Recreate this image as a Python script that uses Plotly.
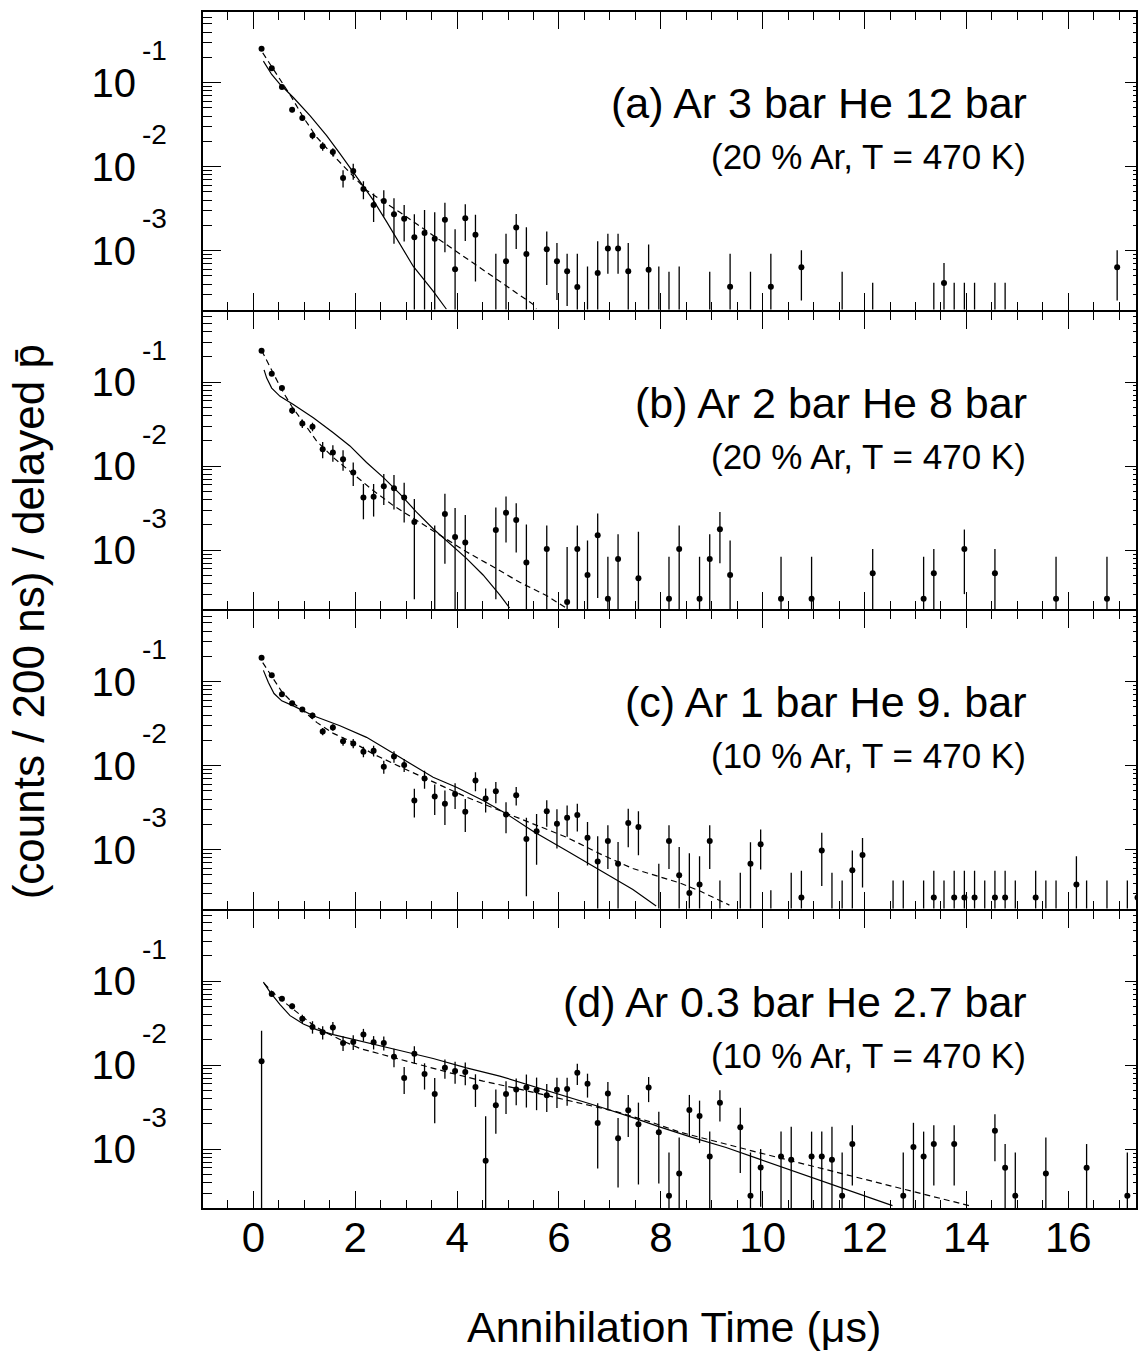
import math
import plotly.graph_objects as go

FONT = "Liberation Sans, Arial, Helvetica, sans-serif"

# ---------------- data ----------------
time_us = [0.16, 0.36, 0.56, 0.76, 0.96, 1.16, 1.36, 1.56, 1.76, 1.96,
           2.16, 2.36, 2.56, 2.76, 2.96, 3.16, 3.36, 3.56, 3.76, 3.96,
           4.16, 4.36, 4.56, 4.76, 4.96, 5.16, 5.36, 5.56, 5.76, 5.96,
           6.16, 6.36, 6.56, 6.76, 6.96, 7.16, 7.36, 7.56, 7.76, 7.96,
           8.16, 8.36, 8.56, 8.76, 8.96, 9.16, 9.36, 9.56, 9.76, 9.96,
           10.16, 10.36, 10.56, 10.76, 10.96, 11.16, 11.36, 11.56, 11.76, 11.96,
           12.16, 12.36, 12.56, 12.76, 12.96, 13.16, 13.36, 13.56, 13.76, 13.96,
           14.16, 14.36, 14.56, 14.76, 14.96, 15.16, 15.36, 15.56, 15.76, 15.96,
           16.16, 16.36, 16.56, 16.76, 16.96, 17.16, 17.36]

# (a) Ar 3 bar He 12 bar   (1e-4 = below the axis floor, only the error bar shows)
counts_a = [0.252, 0.148, 0.0889, 0.0475, 0.0379, 0.0234, 0.0175, 0.0149, 0.00734, 0.00889,
            0.0054, 0.00349, 0.0039, 0.00271, 0.00239, 0.00144, 0.00162, 0.00139, 0.00234, 0.000602,
            0.00243, 0.00155, None, 1e-4, 0.000748, 0.00189, 0.000914, None, 0.00104, 0.000748,
            0.00057, 0.000369, 1e-4, 0.000544, 0.00106, 0.00106, 0.00057, None, 0.000592, 1e-4,
            1e-4, 1e-4, None, None, 1e-4, None, 0.000372, None, 1e-4, None,
            0.000372, None, None, 0.000635, None, None, None, 1e-4, None, None,
            1e-4, None, None, None, None, None, 1e-4, 0.000411, 1e-4, 1e-4,
            1e-4, None, 1e-4, 1e-4, None, None, None, None, None, None,
            None, None, None, None, 0.000635, None, None]
errors_a = [0.008, 0.006, 0.004, 0.003, 0.003, 0.0022, 0.002, 0.0017, 0.0017, 0.0019,
            0.0013, 0.0013, 0.00135, 0.0015, 0.0011, 0.00127, 0.00143, 0.00148, 0.00138, 0.0012,
            0.00113, 0.00112, None, 0.00082, 0.00084, 0.00084, 0.00099, None, 0.00065, 0.00049,
            0.00035, 0.00055, 0.00055, 0.00075, 0.00053, 0.00053, 0.00066, None, 0.00059, 0.00055,
            0.00046, 0.00055, None, None, 0.00046, None, 0.00055, None, 0.00046, None,
            0.00055, None, None, 0.00038, None, None, None, 0.00046, None, None,
            0.000315, None, None, None, None, None, 0.000315, 0.0003, 0.000315, 0.000315,
            0.000315, None, 0.000315, 0.000315, None, None, None, None, None, None,
            None, None, None, None, 0.00038, None, None]

# (b) Ar 2 bar He 8 bar
counts_b = [0.2366, 0.1253, 0.0849, 0.0458, 0.0322, 0.0294, 0.0159, 0.0145, 0.0121, 0.00842,
            0.00423, 0.00431, 0.00575, 0.00545, 0.00423, 0.00216, None, 1e-4, 0.00269, 0.00143,
            0.00123, None, None, 0.00174, 0.00279, 0.00228, 0.000714, None, 0.00103, None,
            0.000241, 0.00103, 0.000507, 0.0015, 0.000264, 0.000783, None, 0.000462, None, None,
            0.000264, 0.00103, None, 0.000264, 0.000783, 0.00177, 0.000507, None, None, None,
            None, 0.000264, None, None, 0.000264, None, None, None, None, None,
            0.00053, None, None, None, None, 0.000264, 0.00053, None, None, 0.00103,
            None, None, 0.00053, None, None, None, None, None, 0.000264, None,
            None, None, None, 0.000264, None, None, None]
errors_b = [0.008, 0.006, 0.005, 0.004, 0.0037, 0.0034, 0.0035, 0.0032, 0.0033, 0.0026,
            0.0019, 0.0018, 0.0023, 0.0024, 0.0021, 0.0019, None, 0.00187, 0.002, 0.00174,
            0.0014, None, None, 0.00148, 0.00156, 0.00134, 0.0013, None, 0.00094, None,
            0.00085, 0.00094, 0.0008, 0.00123, 0.00057, 0.00076, None, 0.0012, None, None,
            0.00057, 0.00094, None, 0.00057, 0.00076, 0.00107, 0.0008, None, None, None,
            None, 0.00057, None, None, 0.00057, None, None, None, None, None,
            0.0005, None, None, None, None, 0.00057, 0.0005, None, None, 0.00073,
            None, None, 0.0005, None, None, None, None, None, 0.00057, None,
            None, None, None, 0.00057, None, None, None]

# (c) Ar 1 bar He 9. bar
counts_c = [0.1927, 0.1189, 0.0708, 0.0553, 0.0466, 0.0395, 0.0255, 0.0285, 0.01945, 0.0184,
            0.01466, 0.01507, 0.00973, 0.0128, 0.0102, 0.00385, 0.00701, 0.00428, 0.00351, 0.00461,
            0.00282, 0.00664, 0.00406, 0.00497, 0.00262, 0.00445, 0.00134, 0.00166, 0.00287, 0.00203,
            0.00239, 0.00258, 0.00139, 0.000721, 0.00127, 0.000682, 0.00207, 0.00186, None, 1e-4,
            0.00127, 0.000497, 0.000306, 0.000385, 0.00127, 1e-4, None, 1e-4, 0.000682, 0.00116,
            1e-4, None, 1e-4, 0.00027, None, 0.00098, 1e-4, 1e-4, 0.00057, 0.000865,
            None, None, 1e-4, 1e-4, None, 1e-4, 0.00027, 1e-4, 0.00027, 0.00027,
            0.00027, 1e-4, 0.00027, 0.00027, 1e-4, None, 0.00027, 1e-4, 1e-4, None,
            0.000385, 1e-4, None, 1e-4, None, 1e-4, 0.00027]
errors_c = [0.006, 0.005, 0.004, 0.003, 0.003, 0.003, 0.0025, 0.0025, 0.0022, 0.0023,
            0.0021, 0.0022, 0.0017, 0.002, 0.0018, 0.00144, 0.0017, 0.0017, 0.00155, 0.00157,
            0.0012, 0.0017, 0.0013, 0.0014, 0.00105, 0.0011, 0.00106, 0.001, 0.001, 0.001,
            0.00097, 0.00093, 0.00074, 0.00072, 0.00068, 0.00055, 0.001, 0.001, None, 0.00058,
            0.00068, 0.00058, 0.0006, 0.00045, 0.00068, 0.00033, None, 0.00043, 0.00054, 0.00058,
            0.00023, None, 0.00043, 0.00029, None, 0.00061, 0.00043, 0.00033, 0.00041, 0.00051,
            None, None, 0.00033, 0.00033, None, 0.00033, 0.00029, 0.00033, 0.00029, 0.00029,
            0.00029, 0.00033, 0.00029, 0.00029, 0.00033, None, 0.00029, 0.00033, 0.00033, None,
            0.00045, 0.00033, None, 0.00033, None, 0.00033, 0.00029]

# (d) Ar 0.3 bar He 2.7 bar
counts_d = [0.01114, 0.0701, 0.0618, 0.0501, 0.0357, 0.0285, 0.0246, 0.028, 0.0184, 0.0189,
            0.0231, 0.01875, 0.0184, 0.01256, 0.00702, 0.01362, 0.00782, 0.00453, 0.00929, 0.00849,
            0.00826, 0.00548, 0.000728, 0.00333, 0.00453, 0.00514, 0.00543, 0.00501, 0.00437, 0.0051,
            0.00519, 0.00811, 0.00601, 0.00205, 0.00461, 0.00135, 0.0029, 0.00198, 0.00543, 0.00159,
            0.00028, 0.000514, 0.00292, 0.00248, 0.000818, 0.00357, None, 0.00182, 0.00028, 0.000607,
            None, 0.000818, 0.000748, None, 0.000818, 0.000818, 0.000748, 0.00028, 0.00115, None,
            None, None, None, 0.00028, 0.00106, 0.000818, 0.00115, None, 0.00115, None,
            None, None, 0.00166, 0.000601, 0.00028, None, None, 0.000514, None, None,
            None, 0.000601, None, None, None, 0.00028, None]
errors_d = [0.0146, 0.004, 0.004, 0.004, 0.004, 0.0048, 0.0044, 0.0047, 0.0037, 0.0038,
            0.0039, 0.0034, 0.0035, 0.0031, 0.0025, 0.0032, 0.0027, 0.0025, 0.0024, 0.0025,
            0.0025, 0.0023, 0.00173, 0.0018, 0.0019, 0.0018, 0.0023, 0.0021, 0.0016, 0.002,
            0.0019, 0.0023, 0.0019, 0.00146, 0.0017, 0.001, 0.0015, 0.0016, 0.0018, 0.0012,
            0.00063, 0.00086, 0.0015, 0.0013, 0.0008, 0.00144, None, 0.0013, 0.00063, 0.0004,
            None, 0.0008, 0.0011, None, 0.0008, 0.0008, 0.0011, 0.00063, 0.00078, None,
            None, None, None, 0.00063, 0.001, 0.0008, 0.00078, None, 0.00078, None,
            None, None, 0.00094, 0.00055, 0.00063, None, None, 0.00086, None, None,
            None, 0.00055, None, None, None, 0.00063, None]

# fitted curves (solid and dashed)
solid_a_t = [0.196, 0.359, 0.523, 0.784, 1.111, 1.438, 1.699, 1.961, 2.157, 2.353, 2.614, 2.876, 3.137, 3.529, 3.79]
solid_a = [0.180, 0.125, 0.0955, 0.0665, 0.0404, 0.0234, 0.01425, 0.00865, 0.00575, 0.0040, 0.00222, 0.00118, 0.000653, 0.000331, 0.000201]
dashed_a_t = [0.183, 0.359, 0.523, 0.752, 0.980, 1.242, 1.569, 1.961, 2.222, 2.549, 2.876, 3.529, 4.183, 4.837, 5.49, 5.556]
dashed_a = [0.226, 0.1545, 0.1094, 0.0665, 0.0386, 0.0224, 0.0136, 0.00755, 0.00525, 0.00383, 0.00286, 0.00152, 0.000805, 0.000435, 0.00023, 0.000201]

solid_b_t = [0.209, 0.261, 0.359, 0.523, 0.784, 1.176, 1.569, 1.895, 2.222, 2.549, 2.876, 3.203, 3.529, 3.856, 4.183, 4.51, 4.837, 5.03]
solid_b = [0.140, 0.1115, 0.0849, 0.0677, 0.054, 0.0376, 0.025, 0.0174, 0.01104, 0.00734, 0.00467, 0.00284, 0.0018, 0.0012, 0.000798, 0.000507, 0.000294, 0.000205]
dashed_b_t = [0.163, 0.261, 0.392, 0.556, 0.752, 0.980, 1.242, 1.569, 1.961, 2.353, 2.745, 3.137, 3.66, 4.183, 4.706, 5.229, 5.752, 6.144]
dashed_b = [0.2366, 0.180, 0.1277, 0.0811, 0.0516, 0.0328, 0.0199, 0.01265, 0.00805, 0.00512, 0.0034, 0.00241, 0.0015, 0.000955, 0.000635, 0.000415, 0.000289, 0.000205]

solid_c_t = [0.196, 0.294, 0.405, 0.556, 0.784, 1.176, 1.699, 2.222, 2.876, 3.529, 3.987, 4.51, 4.967, 5.49, 6.144, 6.797, 7.451, 7.908]
solid_c = [0.136, 0.0973, 0.0721, 0.059, 0.0514, 0.0392, 0.0298, 0.0217, 0.01256, 0.00728, 0.00553, 0.00385, 0.00267, 0.00166, 0.00098, 0.00057, 0.000336, 0.000213]
dashed_c_t = [0.183, 0.359, 0.556, 0.752, 0.98, 1.242, 1.569, 1.961, 2.353, 2.876, 3.529, 4.183, 4.837, 5.49, 6.144, 6.797, 7.451, 8.366, 8.758, 9.346]
dashed_c = [0.168, 0.1167, 0.076, 0.0574, 0.0449, 0.0327, 0.0242, 0.0189, 0.01375, 0.00973, 0.00634, 0.00422, 0.00292, 0.00203, 0.00141, 0.000897, 0.000596, 0.000403, 0.000324, 0.000219]

solid_d_t = [0.196, 0.327, 0.523, 0.719, 0.980, 1.242, 1.569, 2.222, 2.876, 3.529, 4.183, 4.837, 5.49, 6.144, 6.797, 7.451, 7.974, 8.627, 9.281, 9.935, 10.588, 11.242, 11.895, 12.549]
solid_d = [0.0973, 0.0741, 0.0524, 0.0388, 0.0309, 0.0265, 0.0231, 0.0184, 0.01493, 0.012, 0.00929, 0.00741, 0.00564, 0.00428, 0.0032, 0.00237, 0.00184, 0.001374, 0.001047, 0.00076, 0.000553, 0.000403, 0.000292, 0.000213]
dashed_d_t = [0.209, 0.359, 0.588, 0.915, 1.176, 1.438, 1.765, 2.092, 2.549, 3.203, 3.856, 4.51, 5.163, 5.817, 6.471, 7.124, 7.778, 8.366, 9.935, 11.242, 12.549, 14.05]
dashed_d = [0.0938, 0.0753, 0.0574, 0.0399, 0.0298, 0.0242, 0.0193, 0.01578, 0.01337, 0.01038, 0.00811, 0.00646, 0.00528, 0.00428, 0.00348, 0.0028, 0.00213, 0.0016, 0.000906, 0.000574, 0.000361, 0.000213]

panel_titles = ["(a) Ar 3 bar He 12 bar", "(b) Ar 2 bar He 8 bar",
                "(c) Ar 1 bar He 9. bar", "(d) Ar 0.3 bar He 2.7 bar"]
panel_subtitles = ["(20 % Ar, T = 470 K)", "(20 % Ar, T = 470 K)",
                   "(10 % Ar, T = 470 K)", "(10 % Ar, T = 470 K)"]

y_major = [1e-3, 1e-2, 1e-1]
y_major_text = ["10", "10", "10"]
y_exponents = ["-3", "-2", "-1"]
y_minor = [m * 10.0 ** e for e in (-4, -3, -2, -1) for m in range(2, 10)]

x_title = "Annihilation Time (\u03bcs)"
y_title = "(counts / 200 ns) / delayed p\u0304"

# ---------------- figure ----------------
panels = [
    (counts_a, errors_a, solid_a_t, solid_a, dashed_a_t, dashed_a),
    (counts_b, errors_b, solid_b_t, solid_b, dashed_b_t, dashed_b),
    (counts_c, errors_c, solid_c_t, solid_c, dashed_c_t, dashed_c),
    (counts_d, errors_d, solid_d_t, solid_d, dashed_d_t, dashed_d),
]
y_range = [-3.70, -0.16]
x_range = [-0.99, 17.33]

W, H = 1139, 1353
ML, MR, MT, MB = 203, 1, 12, 145
PW = W - ML - MR
PH = H - MT - MB

# stacked panels: 2 px gaps so that the frame lines of neighbours coincide
GAP = 2.0 / PH
PANEL_H = (1.0 - 3 * GAP) / 4
domains = []
for i in range(4):
    top = 1.0 - i * (PANEL_H + GAP)
    domains.append([max(0.0, top - PANEL_H), top])
panel_px = PANEL_H * PH

fig = go.Figure()
layout = dict(
    width=W, height=H,
    margin=dict(l=ML, r=MR, t=MT, b=MB, pad=0),
    paper_bgcolor="white", plot_bgcolor="white",
    showlegend=False, hovermode=False,
    font=dict(family=FONT, color="black"),
)
annotations = []

for i, (vals, errs, st, sv, dt, dv) in enumerate(panels):
    n = i + 1
    xa = "x" if n == 1 else f"x{n}"
    ya = "y" if n == 1 else f"y{n}"
    yr_name = f"y{n + 4}"

    fig.add_trace(go.Scatter(x=st, y=sv, mode="lines", xaxis=xa, yaxis=ya,
                             line=dict(color="black", width=1.2), hoverinfo="skip"))
    fig.add_trace(go.Scatter(x=dt, y=dv, mode="lines", xaxis=xa, yaxis=ya,
                             line=dict(color="black", width=1.2, dash="6px,4px"), hoverinfo="skip"))
    fig.add_trace(go.Scatter(x=time_us, y=vals, mode="markers", xaxis=xa, yaxis=ya,
                             marker=dict(color="black", size=6, symbol="circle"),
                             error_y=dict(type="data", array=errs, symmetric=True,
                                          color="black", thickness=1.3, width=0),
                             hoverinfo="skip"))
    # invisible trace that carries the right-hand tick axis
    fig.add_trace(go.Scatter(x=[time_us[0]], y=[vals[1]], mode="markers", xaxis=xa, yaxis=yr_name,
                             marker=dict(opacity=0, size=1), hoverinfo="skip"))

    xkey = "xaxis" if n == 1 else f"xaxis{n}"
    ykey = "yaxis" if n == 1 else f"yaxis{n}"
    layout[xkey] = dict(
        domain=[0, 1], anchor=ya, range=x_range,
        showline=True, linecolor="black", linewidth=2, mirror="ticks",
        ticks="inside", ticklen=17, tickwidth=1.3, tickcolor="black",
        tickmode="linear", tick0=0, dtick=2,
        minor=dict(tick0=0, dtick=0.5, ticks="inside", ticklen=8, tickwidth=1.3, tickcolor="black"),
        showticklabels=(n == 4),
        tickfont=dict(family=FONT, size=42, color="black"),
        ticklabelstandoff=-8,
        showgrid=False, zeroline=False,
    )
    if n > 1:
        layout[xkey]["matches"] = "x"
    layout[ykey] = dict(
        domain=domains[i], anchor=xa, type="log", range=y_range,
        showline=True, linecolor="black", linewidth=2, mirror=True,
        ticks="inside", ticklen=18, tickwidth=1.3, tickcolor="black",
        tickmode="array", tickvals=y_major, ticktext=y_major_text,
        tickfont=dict(family=FONT, size=40, color="black"),
        ticklabelstandoff=57,
        minor=dict(tickmode="array", tickvals=y_minor, ticks="inside",
                   ticklen=9, tickwidth=1.3, tickcolor="black"),
        showgrid=False, zeroline=False,
    )
    layout[f"yaxis{n + 4}"] = dict(
        overlaying=ya, side="right", anchor=xa, type="log", range=y_range,
        showline=False, ticks="inside", ticklen=11, tickwidth=1.3, tickcolor="black",
        tickmode="array", tickvals=y_major, showticklabels=False,
        minor=dict(tickmode="array", tickvals=y_minor, ticks="inside",
                   ticklen=3, tickwidth=1, tickcolor="black"),
        showgrid=False, zeroline=False,
    )

    # exponents of the decade labels
    for val, ex in zip(y_major, y_exponents):
        annotations.append(dict(
            text=ex, xref="paper", x=(140 - ML) / PW, xanchor="left",
            yref=ya, y=math.log10(val), yanchor="middle", yshift=32,
            showarrow=False, font=dict(family=FONT, size=28, color="black")))

    # panel captions
    annotations.append(dict(
        text=panel_titles[i], xref="paper", x=(1031 - ML) / PW, xanchor="right",
        yref=f"{ya} domain", y=1 - 91.4 / panel_px, yanchor="middle",
        showarrow=False, font=dict(family=FONT, size=43, color="black")))
    annotations.append(dict(
        text=panel_subtitles[i], xref="paper", x=(1030 - ML) / PW, xanchor="right",
        yref=f"{ya} domain", y=1 - 144.5 / panel_px, yanchor="middle",
        showarrow=False, font=dict(family=FONT, size=35, color="black")))

# axis titles
annotations.append(dict(
    text=x_title, xref="paper", x=(675 - ML) / PW, xanchor="center",
    yref="paper", y=(H - MB - 1327) / PH, yanchor="middle",
    showarrow=False, font=dict(family=FONT, size=43, color="black")))
annotations.append(dict(
    text=y_title, xref="paper", x=(28 - ML) / PW, xanchor="center",
    yref="paper", y=(H - MB - 622) / PH, yanchor="middle", textangle=-90,
    showarrow=False, font=dict(family=FONT, size=44, color="black")))

layout["annotations"] = annotations
fig.update_layout(**layout)
fig.write_html("out.html")
